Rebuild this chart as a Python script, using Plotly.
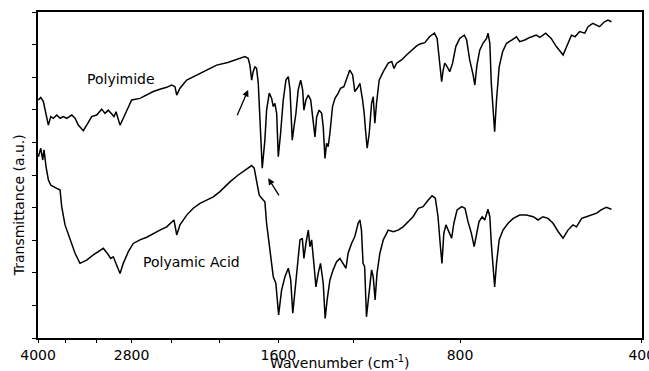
import numpy as np
import plotly.graph_objects as go

# Polyimide spectrum (wavenumber cm-1, transmittance a.u.)
pi_wn = [3995, 3959, 3920, 3880, 3846, 3811, 3773, 3725, 3678, 3633, 3586, 3518, 3474, 3431, 3366, 3323,
         3260, 3199, 3138, 3099, 3060, 3020, 2994, 2971, 2926, 2890, 2852, 2799, 2712, 2643, 2578, 2513,
         2449, 2403, 2373, 2357, 2328, 2269, 2184, 2102, 2024, 1940, 1852, 1817, 1795, 1783, 1771, 1761,
         1749, 1738, 1727, 1716, 1701, 1684, 1673, 1656, 1641, 1631, 1621, 1610, 1600, 1586, 1570, 1554,
         1540, 1530, 1517, 1507, 1496, 1483, 1469, 1458, 1451, 1440, 1427, 1414, 1400, 1391, 1382, 1369,
         1356, 1348, 1339, 1331, 1323, 1314, 1301, 1289, 1273, 1262, 1246, 1233, 1218, 1205, 1195, 1184,
         1172, 1160, 1153, 1146, 1140, 1131, 1121, 1114, 1107, 1100, 1089, 1072, 1052, 1038, 1029, 1019,
         1000, 981, 962, 944, 932, 915, 898, 882, 873, 866, 858, 853, 848, 840, 832, 823,
         813, 801, 787, 780, 771, 761, 756, 750, 742, 733, 723, 719, 714, 710, 705, 701,
         696, 689, 680, 670, 657, 645, 637, 625, 613, 598, 590, 577, 565, 554, 540, 530,
         523, 516, 507, 497, 491, 482, 475, 470, 461, 455, 449]
pi_t = [7.30, 7.38, 7.25, 6.90, 6.53, 6.79, 6.74, 6.84, 6.74, 6.79, 6.74, 6.84, 6.74, 6.53, 6.36, 6.53,
        6.79, 6.84, 7.02, 6.89, 6.99, 6.87, 6.79, 6.94, 6.53, 6.74, 6.99, 7.30, 7.35, 7.45, 7.56, 7.63,
        7.69, 7.76, 7.71, 7.45, 7.66, 7.91, 8.07, 8.22, 8.37, 8.45, 8.59, 8.63, 8.58, 8.37, 7.91, 8.17,
        8.32, 8.27, 7.81, 6.48, 5.21, 6.07, 6.99, 7.51, 7.35, 7.10, 7.20, 6.89, 5.56, 6.28, 7.30, 7.91,
        8.02, 7.61, 6.07, 6.48, 6.89, 7.61, 7.91, 7.61, 6.99, 7.30, 7.45, 7.30, 6.48, 6.17, 6.79, 6.99,
        6.89, 6.48, 5.51, 5.97, 5.87, 6.28, 7.10, 7.35, 7.51, 7.66, 7.71, 7.97, 8.22, 8.07, 7.56, 7.66,
        7.81, 7.30, 6.89, 6.28, 5.82, 6.28, 7.20, 7.40, 6.59, 7.20, 7.91, 8.17, 8.43, 8.48, 8.27, 8.43,
        8.53, 8.68, 8.83, 8.96, 9.02, 9.06, 9.25, 9.35, 9.19, 8.53, 7.86, 8.22, 8.43, 8.32, 8.17, 8.43,
        8.94, 9.19, 9.29, 9.14, 8.53, 8.07, 7.76, 8.37, 8.83, 9.04, 9.19, 9.35, 9.04, 7.81, 6.89, 6.33,
        7.30, 8.32, 8.78, 9.04, 9.14, 9.24, 9.09, 9.14, 9.22, 9.29, 9.22, 9.35, 9.19, 8.94, 8.68, 9.04,
        9.29, 9.24, 9.40, 9.35, 9.55, 9.65, 9.60, 9.55, 9.70, 9.75, 9.70]

# Polyamic acid spectrum
pa_wn = [3995, 3959, 3929, 3910, 3880, 3846, 3811, 3773, 3725, 3678, 3655, 3609, 3540, 3474, 3409, 3323,
         3240, 3158, 3119, 3072, 3032, 3002, 2971, 2926, 2890, 2835, 2782, 2712, 2643, 2578, 2513, 2449,
         2403, 2382, 2357, 2328, 2269, 2213, 2157, 2102, 2050, 1999, 1924, 1864, 1817, 1771, 1754, 1738,
         1721, 1705, 1684, 1673, 1652, 1631, 1615, 1598, 1580, 1560, 1540, 1526, 1514, 1502, 1488, 1473,
         1460, 1451, 1440, 1427, 1418, 1409, 1397, 1386, 1374, 1362, 1348, 1338, 1328, 1314, 1298, 1281,
         1265, 1249, 1236, 1226, 1210, 1195, 1180, 1172, 1165, 1158, 1151, 1143, 1131, 1121, 1114, 1106,
         1098, 1086, 1072, 1052, 1032, 1013, 994, 975, 957, 938, 921, 903, 890, 879, 870, 862,
         857, 851, 844, 837, 826, 819, 809, 795, 785, 776, 766, 758, 751, 744, 735, 728,
         719, 714, 710, 705, 701, 696, 689, 679, 666, 653, 645, 637, 621, 605, 594, 583,
         572, 561, 550, 540, 530, 520, 513, 503, 494, 485, 475, 467, 458, 449]
pa_t = [5.56, 5.82, 5.46, 5.77, 5.25, 4.85, 4.69, 4.64, 4.59, 4.54, 4.03, 3.47, 3.06, 2.60, 2.29, 2.39,
        2.55, 2.68, 2.75, 2.60, 2.44, 2.49, 2.29, 1.98, 2.29, 2.65, 2.90, 3.01, 3.09, 3.21, 3.31, 3.41,
        3.57, 3.62, 3.16, 3.47, 3.77, 3.98, 4.13, 4.23, 4.33, 4.49, 4.79, 5.00, 5.15, 5.29, 5.21, 4.85,
        4.39, 4.29, 4.18, 3.52, 2.60, 1.88, 1.68, 0.71, 1.47, 1.88, 2.14, 1.78, 0.76, 1.47, 2.29, 3.01,
        3.06, 2.44, 2.90, 3.31, 2.80, 3.01, 2.29, 1.57, 1.98, 2.29, 1.68, 0.60, 1.17, 1.78, 2.09, 2.34,
        2.44, 2.29, 2.14, 2.60, 2.90, 3.11, 3.52, 3.62, 3.31, 2.29, 2.19, 0.65, 1.37, 2.09, 1.88, 1.17,
        1.98, 2.60, 3.01, 3.31, 3.26, 3.31, 3.41, 3.57, 3.72, 3.98, 4.03, 4.23, 4.36, 4.29, 3.72, 2.80,
        2.29, 3.21, 3.47, 3.31, 3.06, 3.52, 3.93, 4.03, 3.98, 3.57, 3.21, 2.80, 3.21, 3.57, 3.72, 3.62,
        3.95, 3.72, 2.90, 2.09, 1.57, 2.29, 3.01, 3.31, 3.52, 3.67, 3.72, 3.77, 3.77, 3.72, 3.62, 3.72,
        3.67, 3.52, 3.26, 3.06, 3.31, 3.47, 3.41, 3.67, 3.72, 3.77, 3.83, 3.93, 4.01, 3.95]

tick_vals = [4000, 3600, 3200, 2800, 2400, 2000, 1600, 1200, 800, 400]
tick_text = ["4000", "", "", "2800", "", "", "1600", "", "800", "400"]
y_ticks = list(range(0, 11))

FONT = "DejaVu Sans"

fig = go.Figure()
fig.add_trace(go.Scatter(x=pi_wn, y=pi_t, mode="lines", line=dict(color="black", width=1.5),
                         name="Polyimide", showlegend=False))
fig.add_trace(go.Scatter(x=pa_wn, y=pa_t, mode="lines", line=dict(color="black", width=1.5),
                         name="Polyamic Acid", showlegend=False))

fig.update_layout(
    width=649, height=371,
    margin=dict(l=38, r=7, t=12, b=33, autoexpand=False),
    paper_bgcolor="white", plot_bgcolor="white",
    font=dict(family=FONT, color="black", size=14),
    xaxis=dict(type="log", range=[np.log10(4001), np.log10(399.6)],
               tickvals=tick_vals, ticktext=tick_text, ticks="outside", ticklen=3,
               tickcolor="black", tickwidth=1, showgrid=False, zeroline=False,
               showline=True, linecolor="black", linewidth=1.6, mirror=True,
               ticklabelstandoff=0, ticklabeloverflow="allow", automargin=False,
               tickfont=dict(size=14, family=FONT)),
    yaxis=dict(range=[0, 10], tickvals=y_ticks, showticklabels=False, ticks="outside",
               ticklen=4, tickcolor="black", tickwidth=1, showgrid=False, zeroline=False,
               showline=True, linecolor="black", linewidth=1.6, mirror=True, automargin=False),
)

annotations = [
    dict(x=np.log10(2915), y=7.94, xref="x", yref="y", text="Polyimide", showarrow=False,
         font=dict(size=14, family=FONT)),
    dict(x=np.log10(2232), y=2.33, xref="x", yref="y", text="Polyamic Acid", showarrow=False,
         font=dict(size=14, family=FONT)),
    dict(x=np.log10(1795), y=7.61, ax=np.log10(1876), ay=6.79, xref="x", yref="y",
         axref="x", ayref="y", text="", showarrow=True, arrowhead=2, arrowsize=1,
         arrowwidth=1.3, arrowcolor="black"),
    dict(x=np.log10(1663), y=4.90, ax=np.log10(1590), ay=4.33, xref="x", yref="y",
         axref="x", ayref="y", text="", showarrow=True, arrowhead=2, arrowsize=1,
         arrowwidth=1.3, arrowcolor="black"),
    dict(x=0.5, y=-0.074, xref="paper", yref="paper", yanchor="middle",
         text="Wavenumber (cm<sup>-1</sup>)", showarrow=False, font=dict(size=14, family=FONT)),
    dict(x=-0.031, y=0.408, xref="paper", yref="paper", xanchor="center", yanchor="middle",
         text="Transmittance (a.u.)", textangle=-90, showarrow=False,
         font=dict(size=14, family=FONT)),
]
fig.update_layout(annotations=annotations)

fig.write_html("out.html", config={"displayModeBar": False},
               post_script="document.body.style.margin='0';")
